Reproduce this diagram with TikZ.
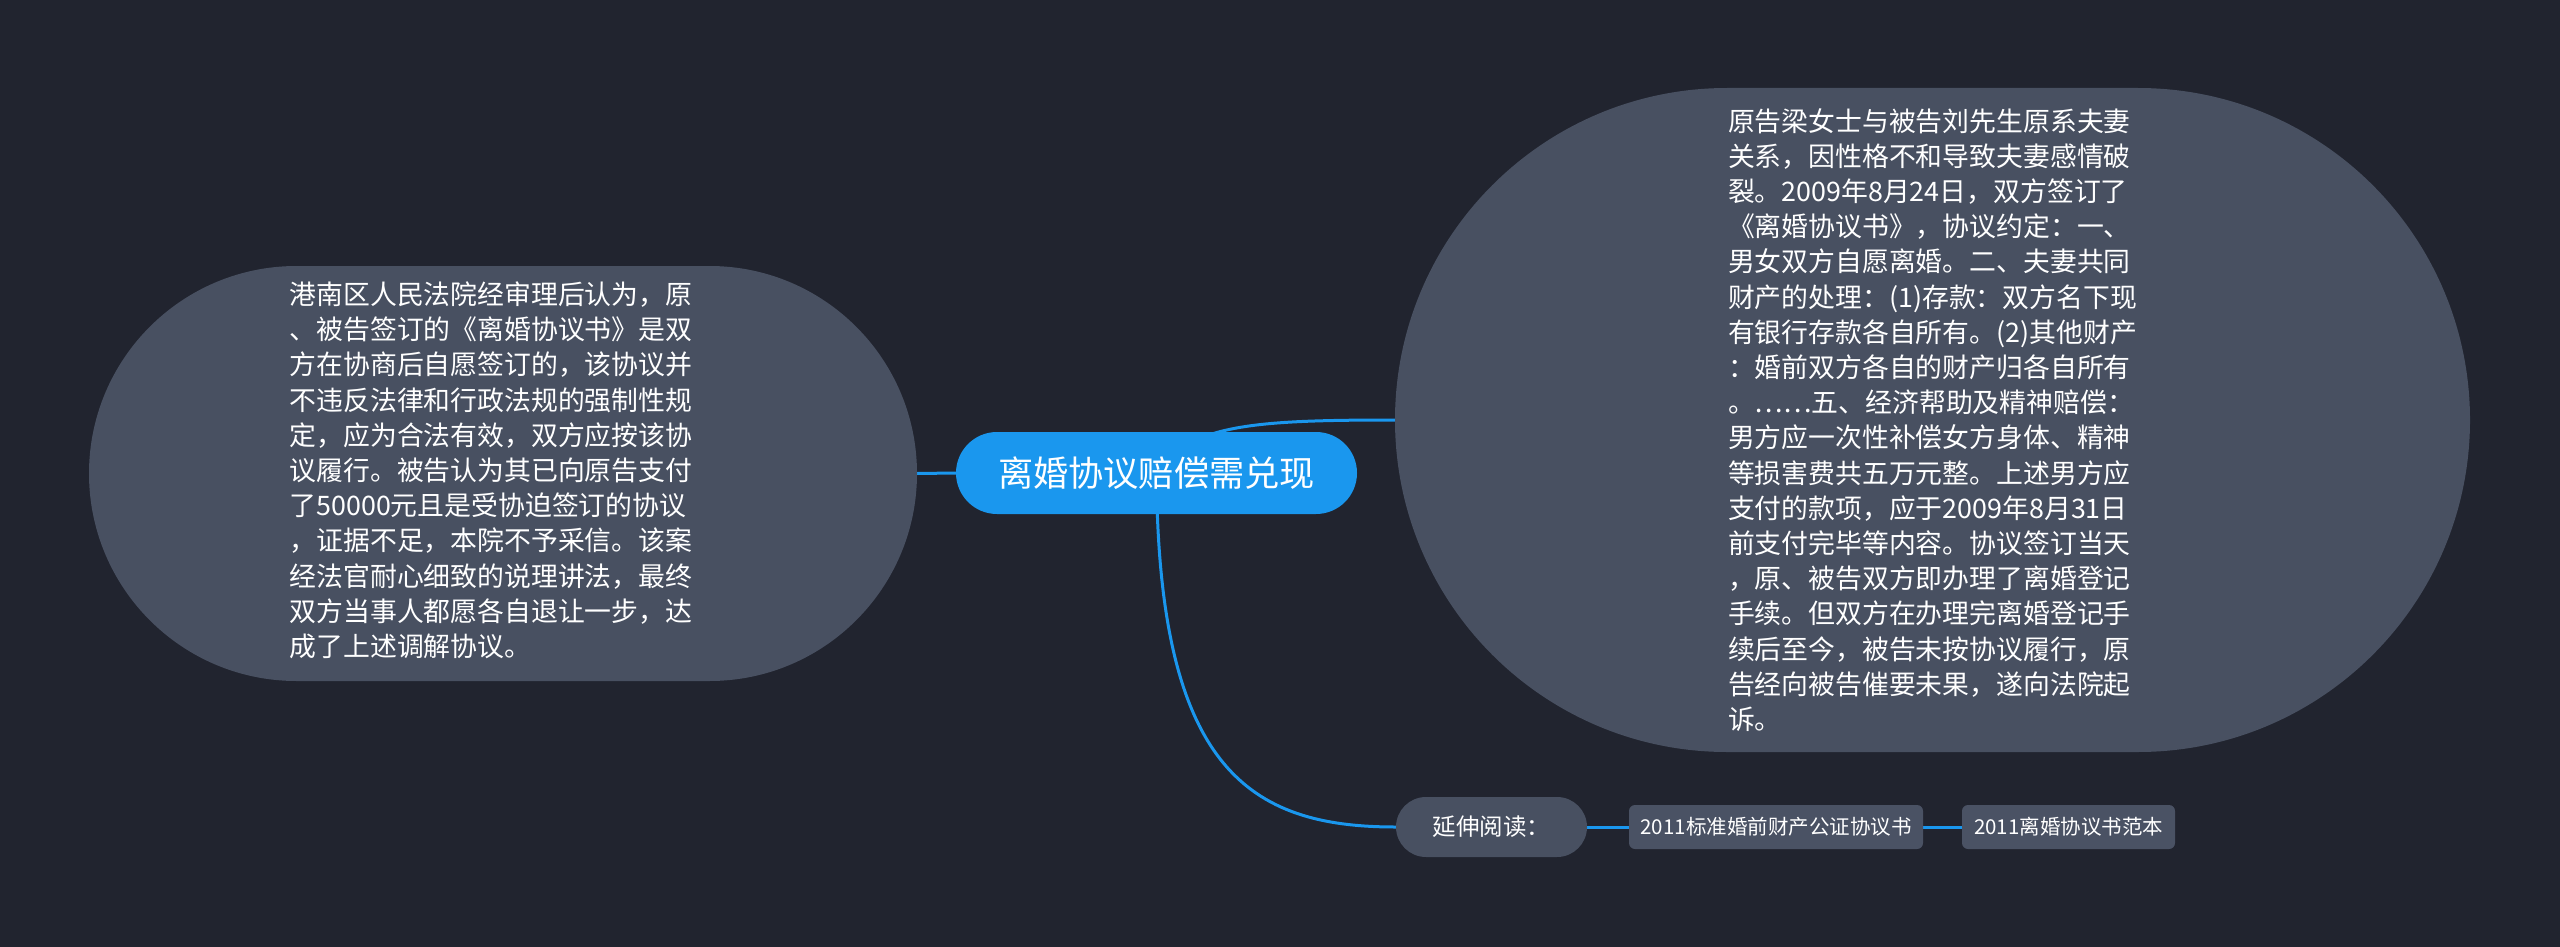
\documentclass[tikz,border=0pt]{standalone}
\usepackage{fontspec}
\newfontfamily\cjk{Noto Sans CJK SC}
\usetikzlibrary{shapes.misc}
\definecolor{bgc}{HTML}{21242F}
\definecolor{nodec}{HTML}{485061}
\definecolor{boxc}{HTML}{4A5264}
\definecolor{bluec}{HTML}{1A97EE}
\pgfdeclarelayer{back}
\pgfdeclarelayer{links}
\pgfsetlayers{back,links,main}
\begin{document}
\begin{tikzpicture}[x=1pt,y=-1pt,
  bignode/.style={rounded rectangle, fill=nodec, text=white, inner sep=0pt, align=left,
    font=\cjk\fontsize{26.85}{35.2}\selectfont},
  rootnode/.style={rounded rectangle, fill=bluec, text=white, inner sep=0pt,
    minimum width=401pt, minimum height=82pt, font=\cjk\fontsize{35.2}{40}\selectfont},
  extnode/.style={rounded rectangle, fill=nodec, text=white, inner sep=0pt,
    minimum width=191pt, minimum height=60pt, font=\cjk\fontsize{23.5}{28}\selectfont},
  linkbox/.style={rectangle, rounded corners=6pt, fill=boxc, text=white, inner sep=0pt,
    minimum height=44pt, font=\cjk\fontsize{20.5}{24}\selectfont},
  link/.style={draw=bluec, line width=3pt}]
\useasboundingbox (0,0) rectangle (2560,947);
\begin{pgfonlayer}{back}
\fill[bgc] (0,0) rectangle (2560,947);
\end{pgfonlayer}

\node[rootnode] (root) at (1156.5,473) {离婚协议赔偿需兑现};

\node[bignode, minimum width=828pt, minimum height=415pt] (left) at (503,473.5) {%
\hspace*{-12pt}\begin{tabular}{@{}l@{}}%
港南区人民法院经审理后认为，原\\
、被告签订的《离婚协议书》是双\\
方在协商后自愿签订的，该协议并\\
不违反法律和行政法规的强制性规\\
定，应为合法有效，双方应按该协\\
议履行。被告认为其已向原告支付\\
了50000元且是受协迫签订的协议\\
，证据不足，本院不予采信。该案\\
经法官耐心细致的说理讲法，最终\\
双方当事人都愿各自退让一步，达\\
成了上述调解协议。\end{tabular}\hspace*{12pt}};

\node[bignode, minimum width=1075pt, minimum height=664pt] (right) at (1932.5,420) {%
原告梁女士与被告刘先生原系夫妻\\
关系，因性格不和导致夫妻感情破\\
裂。2009年8月24日，双方签订了\\
《离婚协议书》，协议约定：一、\\
男女双方自愿离婚。二、夫妻共同\\
财产的处理：(1)存款：双方名下现\\
有银行存款各自所有。(2)其他财产\\
：婚前双方各自的财产归各自所有\\
。……五、经济帮助及精神赔偿：\\
男方应一次性补偿女方身体、精神\\
等损害费共五万元整。上述男方应\\
支付的款项，应于2009年8月31日\\
前支付完毕等内容。协议签订当天\\
，原、被告双方即办理了离婚登记\\
手续。但双方在办理完离婚登记手\\
续后至今，被告未按协议履行，原\\
告经向被告催要未果，遂向法院起\\
诉。};

\node[extnode] (ext) at (1491.5,827) {延伸阅读：};
\node[linkbox, minimum width=294pt] (l1) at (1776,827) {2011标准婚前财产公证协议书};
\node[linkbox, minimum width=213pt] (l2) at (2068.5,827) {2011离婚协议书范本};

\begin{pgfonlayer}{links}
\draw[link] (left.east) -- (root.west);
\draw[link] (root.center) .. controls (1190,425) and (1250,420) .. (right.west);
\draw[link] (root.center) .. controls (1158,770) and (1250,827) .. (ext.west);
\draw[link] (ext.east) -- (l1.west);
\draw[link] (l1.east) -- (l2.west);
\end{pgfonlayer}
\end{tikzpicture}
\end{document}
